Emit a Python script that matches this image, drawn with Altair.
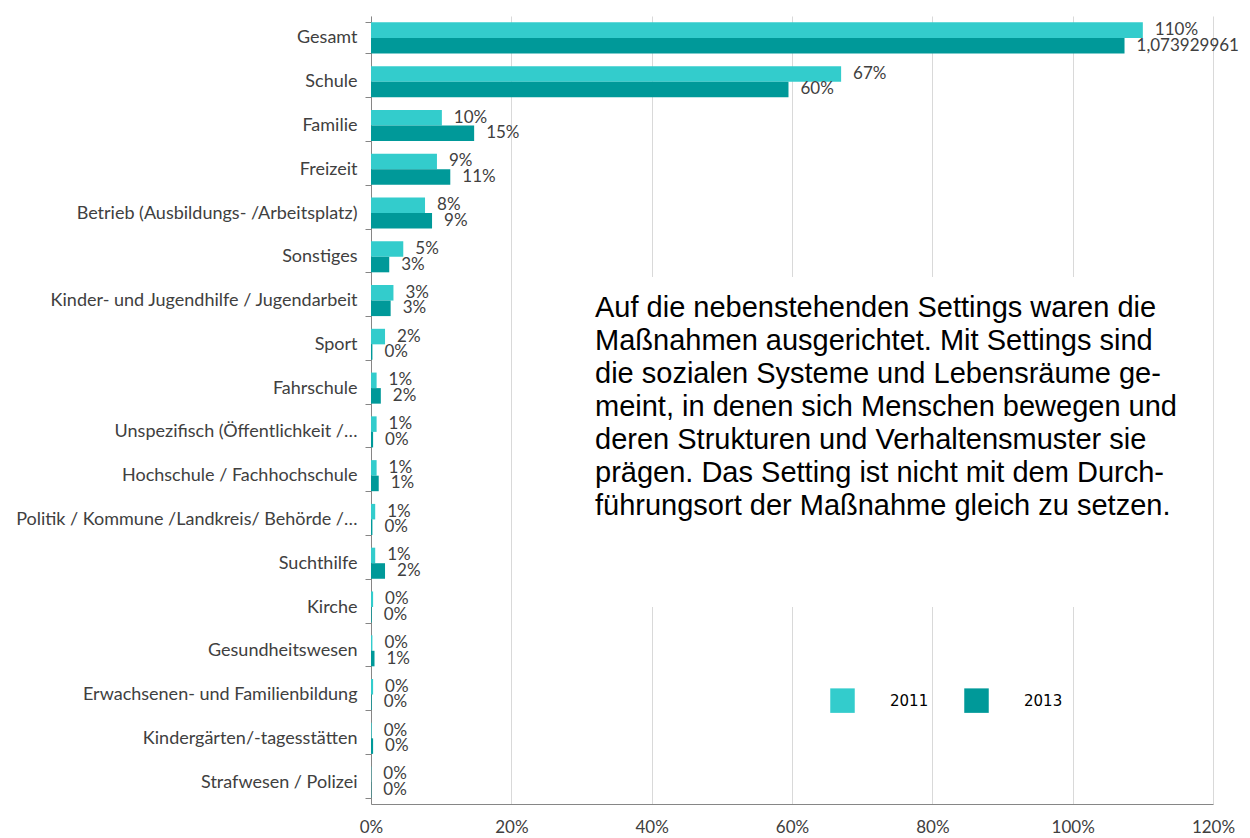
import altair as alt
import pandas as pd

categories = [
    "Gesamt",
    "Schule",
    "Familie",
    "Freizeit",
    "Betrieb (Ausbildungs- /Arbeitsplatz)",
    "Sonstiges",
    "Kinder- und Jugendhilfe / Jugendarbeit",
    "Sport",
    "Fahrschule",
    "Unspezifisch (Öffentlichkeit /…",
    "Hochschule / Fachhochschule",
    "Politik / Kommune /Landkreis/ Behörde /…",
    "Suchthilfe",
    "Kirche",
    "Gesundheitswesen",
    "Erwachsenen- und Familienbildung",
    "Kindergärten/-tagesstätten",
    "Strafwesen / Polizei",
]
years = ["2011", "2013"]
values_2011 = [1.10, 0.67, 0.101, 0.094, 0.077, 0.046, 0.032, 0.020, 0.008, 0.008, 0.008,
               0.006, 0.006, 0.003, 0.002, 0.003, 0.001, 0.0005]
values_2013 = [1.0739, 0.595, 0.147, 0.113, 0.087, 0.026, 0.028, 0.002, 0.014, 0.003, 0.011,
               0.002, 0.020, 0.001, 0.005, 0.001, 0.003, 0.0005]
labels_2011 = ["110%", "67%", "10%", "9%", "8%", "5%", "3%", "2%", "1%", "1%", "1%",
               "1%", "1%", "0%", "0%", "0%", "0%", "0%"]
labels_2013 = ["1,073929961", "60%", "15%", "11%", "9%", "3%", "3%", "0%", "2%", "0%", "1%",
               "0%", "2%", "0%", "1%", "0%", "0%", "0%"]
colors = ["#33CCCC", "#009999"]
x_ticks = [0, 0.2, 0.4, 0.6, 0.8, 1.0, 1.2]

annotation_lines = [
    "Auf die nebenstehenden Settings waren die",
    "Maßnahmen ausgerichtet. Mit Settings sind",
    "die sozialen Systeme und Lebensräume ge-",
    "meint, in denen sich Menschen bewegen und",
    "deren Strukturen und Verhaltensmuster sie",
    "prägen. Das Setting ist nicht mit dem Durch-",
    "führungsort der Maßnahme gleich zu setzen.",
]

rows = []
for i, c in enumerate(categories):
    rows.append({"cat": c, "year": "2011", "value": values_2011[i], "label": labels_2011[i]})
    rows.append({"cat": c, "year": "2013", "value": values_2013[i], "label": labels_2013[i]})
df = pd.DataFrame(rows)

W, H = 842, 788

y_enc = alt.Y(
    "cat:N",
    sort=categories,
    scale=alt.Scale(paddingInner=0.29, paddingOuter=0.145),
    axis=alt.Axis(
        title=None, tickBand="extent", tickSize=6, tickColor="#868686",
        domainColor="#868686", labelFont="Lato", labelFontSize=18,
        labelColor="#404040", labelPadding=8, labelLimit=420, grid=False,
    ),
)
x_enc = alt.X(
    "value:Q",
    scale=alt.Scale(domain=[0, 1.2], nice=False),
    axis=alt.Axis(
        title=None, format=".0%", values=x_ticks, grid=True, gridColor="#d9d9d9",
        ticks=False, domainColor="#868686", labelFont="Lato", labelFontSize=17,
        labelColor="#404040", labelPadding=15, labelFlush=False,
    ),
)
yoff = alt.YOffset("year:N", sort=years)

bars = alt.Chart(df).mark_bar().encode(
    y=y_enc,
    x=x_enc,
    yOffset=yoff,
    color=alt.Color(
        "year:N",
        scale=alt.Scale(domain=years, range=colors),
        legend=alt.Legend(
            title=None, orient="none", legendX=459, legendY=672,
            direction="horizontal", symbolType="square", symbolSize=600,
            symbolStrokeWidth=0, symbolOpacity=1, labelFont="DejaVu Sans",
            labelFontSize=15, labelColor="#000000", labelOffset=35,
            columnPadding=35, padding=0,
        ),
    ),
)

texts = alt.Chart(df).mark_text(
    align="left", baseline="middle", dx=12, dy=0, font="Lato", fontSize=17, color="#404040"
).encode(
    y=alt.Y("cat:N", sort=categories),
    x=alt.X("value:Q"),
    yOffset=yoff,
    text="label:N",
)

box = alt.Chart(pd.DataFrame({"k": [0]})).mark_rect(color="white").encode(
    x=alt.value(214), x2=alt.value(841), y=alt.value(261), y2=alt.value(591)
)

note = alt.Chart(pd.DataFrame({"k": [0]})).mark_text(
    align="left", baseline="alphabetic", font="Liberation Sans", fontSize=29,
    lineHeight=33, color="#000000",
).encode(
    x=alt.value(224), y=alt.value(301), text=alt.value(annotation_lines)
)

chart = alt.layer(bars, texts, box, note).properties(
    width=W, height=H,
    autosize=alt.AutoSizeParams(type="none"),
    padding={"left": 363, "top": 8, "right": 29, "bottom": 31},
).configure_view(stroke=None)

chart.save("out.html", embed_options={"renderer": "svg", "actions": False})
